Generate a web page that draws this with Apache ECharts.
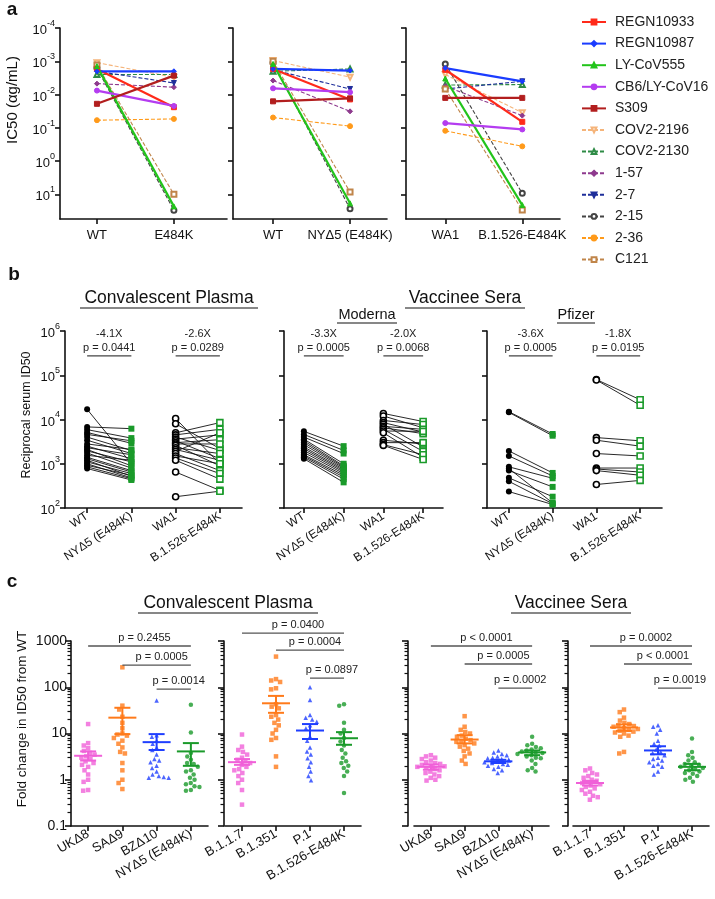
<!DOCTYPE html>
<html><head><meta charset="utf-8"><title>chart</title>
<script src="https://cdn.jsdelivr.net/npm/echarts@6.0.0/dist/echarts.min.js"></script>
<style>html,body{margin:0;padding:0;background:#fff;}#chart{width:715px;height:899px;}</style>
</head><body><div id="chart"></div>
<script>
// ================= DATA =================
// Panel a: IC50 (ug/mL) of monoclonal antibodies
const aAntibodies = ['REGN10933','REGN10987','LY-CoV555','CB6/LY-CoV16','S309','COV2-2196','COV2-2130','1-57','2-7','2-15','2-36','C121'];
const aCats1 = ['WT','E484K'];
const aCats2 = ['WT','NYΔ5 (E484K)'];
const aCats3 = ['WA1','B.1.526-E484K'];
const aWT1     = [0.0017,0.002,0.0014,0.0076,0.019,0.0011,0.0025,0.0047,0.002,0.0016,0.059,0.0013];
const aE484K1  = [0.024,0.002,23,0.022,0.0027,0.003,0.0025,0.006,0.0045,30,0.054,10];
const aWT2     = [0.0017,0.0017,0.0012,0.0065,0.016,0.00095,0.002,0.0038,0.0018,0.0011,0.049,0.001];
const aNY2     = [0.014,0.0019,18.6,0.0085,0.013,0.003,0.0017,0.032,0.0068,27,0.089,8.5];
const aWA1_3   = [0.0018,0.0016,0.0033,0.072,0.0126,0.0025,0.0052,0.0056,0.0068,0.0012,0.123,0.0068];
const aB1526_3 = [0.066,0.004,21,0.112,0.0126,0.035,0.005,0.043,0.004,9.3,0.36,29.5];
const aTickVals = [1e-4,1e-3,1e-2,1e-1,1,10];

// Panel b: reciprocal serum ID50 (paired)
const bCats = ['WT','NYΔ5 (E484K)','WA1','B.1.526-E484K'];
const convWT  = [17000,6800,5900,5100,4600,4000,3400,2800,2500,2300,2100,1950,1750,1550,1400,1300,1200,1100,1000,920,850,780];
const convNY  = [1000,6200,3800,2900,3300,2000,1700,2100,1300,1600,900,1100,800,1200,700,650,520,600,480,550,460,430];
const convWA1 = [10500,8000,5000,4500,4000,3600,3300,3000,2800,2600,2300,2100,1900,1700,1500,1350,1200,650,180];
const convB   = [1000,2200,8500,6000,2000,4500,1300,3500,2800,900,1700,1200,5000,700,1000,600,450,250,240];
const modWT   = [5400,4600,4000,3600,3300,3000,2700,2400,2200,2000,1800,1600,1500,1400,1300];
const modNY   = [2500,2000,1700,1000,900,850,800,750,700,650,600,550,500,450,380];
const modWA1  = [13700,12000,9500,8500,7800,7000,6500,6000,5500,5000,3400,3000,2700,2600];
const modB    = [9000,6500,7700,5200,2400,6000,4800,1900,5400,1400,2800,3000,1600,1250];
const pfzWT   = [15000,14500,1950,1500,850,780,700,480,400,235];
const pfzNY   = [4700,4300,620,530,470,130,300,180,125,120];
const pfzWA1  = [80000,78000,3900,3400,1700,800,760,700,340];
const pfzB    = [28000,21000,3300,2500,1500,800,650,550,420];
const bTickVals = [1e2,1e3,1e4,1e5,1e6];
const bFoldConv = ['-4.1X','-2.6X'], bPConv = ['p = 0.0441','p = 0.0289'];
const bFoldMod  = ['-3.3X','-2.0X'], bPMod  = ['p = 0.0005','p = 0.0068'];
const bFoldPfz  = ['-3.6X','-1.8X'], bPPfz  = ['p = 0.0005','p = 0.0195'];

// Panel c: fold change in ID50 from WT
const cCatsA = ['UKΔ8','SAΔ9','BZΔ10','NYΔ5 (E484K)'];
const cCatsB = ['B.1.1.7','B.1.351','P.1','B.1.526-E484K'];
const convUK    = [16,6.2,5.5,4.8,4.2,3.8,3.5,3.2,3.0,2.8,2.5,2.3,2.1,1.9,1.6,1.3,1.0,0.9,0.6,0.58];
const convSA    = [270,40,33,23,17,13,10,9.5,9,8,7,6,5,4,3.7,2.3,1.6,1.0,0.85,0.63];
const convBZ    = [52,9.2,8.5,7,6,5,4.4,3.5,2.8,2.6,2.4,2.0,1.8,1.5,1.3,1.2,1.15,1.1,1.1];
const convNYc   = [42,10.5,3.8,3.2,2.7,2.3,2.2,1.9,1.6,1.5,1.3,1.1,1.0,0.85,0.8,0.72,0.7,0.6,0.58];
const convB117  = [9.5,5.2,4.4,4.0,3.5,3.0,2.7,2.5,2.3,2.1,1.9,1.7,1.6,1.4,1.2,1.0,0.85,0.6,0.29];
const convB1351 = [460,150,140,130,95,90,43,38,35,25,23,20,17,15,12,10,8,7.3,3.2,1.9];
const convP1    = [100,53,25,22,20,18,15,13,8.6,7,5,4.1,3.5,2.9,2.4,1.9,1.5,1.2,0.97];
const convB1526 = [43,40,17,12,10,8,6.7,5.5,4.4,3.7,3.0,2.5,2.3,2.0,1.8,1.5,1.2,0.52];
const vacUK     = [3.4,3.2,3.0,2.8,2.6,2.4,2.3,2.2,2.1,2.0,1.95,1.9,1.85,1.8,1.7,1.6,1.5,1.4,1.3,1.2,1.1,1.0,0.96];
const vacSA     = [23.7,14,12,10.8,10,9,8.5,7.7,7.2,6.8,6.6,6.1,5.6,5.2,4.7,4.2,3.7,3.2,2.6,2.2];
const vacBZ     = [4.3,3.9,3.6,3.4,3.2,3.0,2.9,2.8,2.7,2.6,2.5,2.4,2.3,2.2,2.1,2.0,1.9,1.7,1.6,1.4];
const vacNY     = [8.5,6,5.6,5.1,4.8,4.5,4.3,4.1,3.9,3.8,3.6,3.4,3.2,3.0,2.9,2.6,2.2,1.8,1.6,1.5];
const vacB117   = [1.75,1.6,1.4,1.3,1.2,1.1,1.0,0.95,0.9,0.85,0.8,0.75,0.7,0.65,0.6,0.55,0.5,0.45,0.42,0.37];
const vacB1351  = [33,29,22,19,17,16,15,14.5,14,13,12.5,12,11.5,11,10.5,10,9,8.5,4.0,3.7];
const vacP1     = [15,14,12,10,7,6,5.5,4.5,4.0,3.8,3.4,3.0,2.8,2.6,2.4,2.2,2.0,1.9,1.5,1.3];
const vacB1526  = [7.8,4.0,3.4,3.0,2.6,2.4,2.2,2.1,2.0,1.9,1.8,1.7,1.6,1.5,1.4,1.35,1.2,1.1,1.0,0.9];
// mean and SEM bounds
const cMeanConvA = [3.3,22,6.5,4.1],   cLoConvA = [2.6,9.7,4.4,2.0],  cHiConvA = [4.1,36,9.7,6.2];
const cMeanConvB = [2.4,45,11.6,7.9],  cLoConvB = [2.1,28,7.6,5.7],   cHiConvB = [2.8,65,16,10.7];
const cMeanVacA  = [1.9,7.4,2.5,3.9],  cLoVacA  = [1.65,6.1,2.3,3.4], cHiVacA  = [2.15,9.2,2.7,4.3];
const cMeanVacB  = [0.85,13.5,4.3,1.9],cLoVacB  = [0.75,11.4,3.55,1.6],cHiVacB = [0.94,15.7,5.3,2.2];
const cTickVals = [0.1,1,10,100,1000];
const cPConvA = ['p = 0.2455','p = 0.0005','p = 0.0014'];
const cPConvB = ['p = 0.0400','p = 0.0004','p = 0.0897'];
const cPVacA  = ['p < 0.0001','p = 0.0005','p = 0.0002'];
const cPVacB  = ['p = 0.0002','p < 0.0001','p = 0.0019'];

// ================= STYLE / LAYOUT =================
const FONT = '"Liberation Sans", Arial, Helvetica, sans-serif';
const INK = '#111';
const AX = {color: INK, width: 1.6};
const aStyle = [
  {c:'#ff2a1a', t:'solid',  w:2.2, s:'rect'},
  {c:'#1a3cff', t:'solid',  w:2.2, s:'diamond'},
  {c:'#22c41a', t:'solid',  w:2.2, s:'triangle'},
  {c:'#b43cf0', t:'solid',  w:2.2, s:'circle'},
  {c:'#b21e1e', t:'solid',  w:2.2, s:'rect'},
  {c:'#f5b47a', t:'dashed', w:1.1, s:'emptyTriangle', rot:180},
  {c:'#2e8b46', t:'dashed', w:1.1, s:'emptyTriangle'},
  {c:'#8e3a8e', t:'dashed', w:1.1, s:'diamond'},
  {c:'#1e2e9a', t:'dashed', w:1.1, s:'triangle', rot:180},
  {c:'#444444', t:'dashed', w:1.1, s:'emptyCircle'},
  {c:'#ff9a1a', t:'dashed', w:1.1, s:'circle'},
  {c:'#c0854a', t:'dashed', w:1.1, s:'emptyRect'}
];
const GREEN = '#1a9a2a';
const cColors = ['#f060d8','#ff7a1a','#1f3fff','#1a9a2a'];
const cSymbols = ['rect','rect','triangle','circle'];

const powRich = {
  b: {fontSize: 13, color: INK, fontFamily: FONT, lineHeight: 18, verticalAlign: 'bottom'},
  s: {fontSize: 9, color: INK, fontFamily: FONT, lineHeight: 8, verticalAlign: 'top'}
};
function powLabel(v) {
  const e = Math.round(Math.log10(v));
  return '{b|10}{s|' + e + '}';
}

const grid = [], xAxis = [], yAxis = [], series = [];
function addGrid(left, top, width, height) {
  grid.push({left, top, width, height});
  return grid.length - 1;
}

// ---------- Panel a ----------
const aGridDefs = [
  {left: 60,  width: 167, min: -0.48, max: 1.69, cats: aCats1, A: aWT1,   B: aE484K1,  lbl: true},
  {left: 233, width: 154, min: -0.52, max: 1.48, cats: aCats2, A: aWT2,   B: aNY2,     lbl: false},
  {left: 406, width: 154, min: -0.51, max: 1.49, cats: aCats3, A: aWA1_3, B: aB1526_3, lbl: false}
];
aGridDefs.forEach(d => {
  const gi = addGrid(d.left, 28, d.width, 191);
  xAxis.push({type: 'value', gridIndex: gi, min: d.min, max: d.max,
    axisLine: {show: true, onZero: false, lineStyle: AX},
    axisTick: {show: true, length: 5, customValues: [0, 1], lineStyle: AX},
    axisLabel: {customValues: [0, 1], formatter: v => d.cats[Math.round(v)], fontSize: 13, color: INK, fontFamily: FONT, margin: 10},
    splitLine: {show: false}});
  const xi = xAxis.length - 1;
  yAxis.push({type: 'log', logBase: 10, gridIndex: gi, inverse: true, min: 1e-4, max: 55,
    axisLine: {show: true, onZero: false, lineStyle: AX},
    axisTick: {show: true, length: 5, customValues: aTickVals, lineStyle: AX},
    axisLabel: {show: d.lbl, customValues: aTickVals, formatter: powLabel, rich: powRich, margin: 5},
    splitLine: {show: false}, minorTick: {show: false}});
  const yi = yAxis.length - 1;
  aAntibodies.forEach((name, i) => {
    const st = aStyle[i];
    series.push({type: 'line', name, xAxisIndex: xi, yAxisIndex: yi, silent: true,
      z: st.t === 'solid' ? 4 : 3,
      symbol: st.s, symbolSize: 5, symbolRotate: st.rot || 0,
      lineStyle: {color: st.c, width: st.w, type: st.t === 'dashed' ? [4, 2] : 'solid'},
      itemStyle: {color: st.c, borderColor: st.c, borderWidth: 1},
      data: [[0, d.A[i]], [1, d.B[i]]]});
  });
});

// ---------- Panel b ----------
const symWT  = {s: 'circle', st: {color: '#000'}};
const symNY  = {s: 'rect',   st: {color: GREEN}};
const symWA1 = {s: 'circle', st: {color: '#fff', borderColor: '#000', borderWidth: 1.6}};
const symB   = {s: 'rect',   st: {color: '#fff', borderColor: GREEN, borderWidth: 1.6}};
const bBracketY = 2.75e5;
function pairs(xi, yi, c0, c1, A, B, sA, sB) {
  for (let i = 0; i < A.length; i++) {
    series.push({type: 'line', xAxisIndex: xi, yAxisIndex: yi, silent: true, symbolSize: 6, z: 3,
      lineStyle: {color: '#111', width: 0.9},
      data: [{value: [c0, A[i]], symbol: sA.s, itemStyle: sA.st},
             {value: [c1, B[i]], symbol: sB.s, itemStyle: sB.st}]});
  }
}
const bGridDefs = [
  {left: 65,  width: 177, lbl: true,  sets: [[convWT, convNY], [convWA1, convB]], fold: bFoldConv, p: bPConv},
  {left: 284, width: 159, lbl: false, sets: [[modWT, modNY],   [modWA1, modB]],   fold: bFoldMod,  p: bPMod},
  {left: 487, width: 175, lbl: false, sets: [[pfzWT, pfzNY],   [pfzWA1, pfzB]],   fold: bFoldPfz,  p: bPPfz}
];
bGridDefs.forEach(d => {
  const gi = addGrid(d.left, 331, d.width, 177);
  xAxis.push({type: 'category', gridIndex: gi, data: bCats, boundaryGap: true,
    axisLine: {show: true, onZero: false, lineStyle: AX},
    axisTick: {show: true, alignWithLabel: true, length: 5, lineStyle: AX},
    axisLabel: {interval: 0, rotate: 33, fontSize: 12, color: INK, fontFamily: FONT, margin: 7},
    splitLine: {show: false}});
  const xi = xAxis.length - 1;
  yAxis.push({type: 'log', logBase: 10, gridIndex: gi, min: 1e2, max: 1e6,
    axisLine: {show: true, onZero: false, lineStyle: AX},
    axisTick: {show: true, length: 5, customValues: bTickVals, lineStyle: AX},
    axisLabel: {show: d.lbl, customValues: bTickVals, formatter: powLabel, rich: powRich, margin: 5},
    splitLine: {show: false}, minorTick: {show: false}});
  const yi = yAxis.length - 1;
  pairs(xi, yi, bCats[0], bCats[1], d.sets[0][0], d.sets[0][1], symWT, symNY);
  pairs(xi, yi, bCats[2], bCats[3], d.sets[1][0], d.sets[1][1], symWA1, symB);
  series.push({type: 'custom', xAxisIndex: xi, yAxisIndex: yi, silent: true, clip: false, z: 6,
    data: [[0, 1, bBracketY], [2, 3, bBracketY]],
    renderItem: (params, api) => {
      const p1 = api.coord([api.value(0), api.value(2)]);
      const p2 = api.coord([api.value(1), api.value(2)]);
      const cx = (p1[0] + p2[0]) / 2;
      return {type: 'group', children: [
        {type: 'line', shape: {x1: p1[0], y1: p1[1], x2: p2[0], y2: p2[1]}, style: {stroke: '#444', lineWidth: 1.3}},
        {type: 'text', x: cx, y: p1[1] - 8, style: {text: d.p[params.dataIndex], align: 'center', verticalAlign: 'middle', fontSize: 11, fill: '#222', fontFamily: FONT}},
        {type: 'text', x: cx, y: p1[1] - 22, style: {text: d.fold[params.dataIndex], align: 'center', verticalAlign: 'middle', fontSize: 11, fill: '#222', fontFamily: FONT}}
      ]};
    }});
});

// ---------- Panel c ----------
const cMinor = [];
[0.1, 1, 10, 100].forEach(dec => { for (let k = 2; k <= 9; k++) cMinor.push(+(dec * k).toPrecision(3)); });
const cGridDefs = [
  {left: 71,  width: 137, off: 0, lbl: true,  cats: cCatsA, sets: [convUK, convSA, convBZ, convNYc],     m: cMeanConvA, lo: cLoConvA, hi: cHiConvA, p: cPConvA, br: [[0,3,780],[1,3,302],[2,3,91]]},
  {left: 225, width: 136, off: 1, lbl: false, cats: cCatsB, sets: [convB117, convB1351, convP1, convB1526], m: cMeanConvB, lo: cLoConvB, hi: cHiConvB, p: cPConvB, br: [[0,3,1480],[1,3,635],[2,3,158]]},
  {left: 414, width: 135, off: 6, lbl: false, cats: cCatsA, sets: [vacUK, vacSA, vacBZ, vacNY],           m: cMeanVacA,  lo: cLoVacA,  hi: cHiVacA,  p: cPVacA,  br: [[0,3,780],[1,3,318],[2,3,96]]},
  {left: 573, width: 136, off: 5, lbl: false, cats: cCatsB, sets: [vacB117, vacB1351, vacP1, vacB1526],   m: cMeanVacB,  lo: cLoVacB,  hi: cHiVacB,  p: cPVacB,  br: [[0,3,780],[1,3,318],[2,3,96]]}
];
cGridDefs.forEach(d => {
  const gi = addGrid(d.left, 641, d.width, 185);
  xAxis.push({type: 'category', gridIndex: gi, data: d.cats, boundaryGap: true,
    jitter: 30, jitterOverlap: false, jitterMargin: 0.5,
    axisLine: {show: true, onZero: false, lineStyle: AX},
    axisTick: {show: true, alignWithLabel: true, length: 5, lineStyle: AX},
    axisLabel: {interval: 0, rotate: 30, fontSize: 13, color: INK, fontFamily: FONT, margin: 7},
    splitLine: {show: false}});
  const xi = xAxis.length - 1;
  yAxis.push({type: 'log', logBase: 10, gridIndex: gi, min: 0.1, max: 1000, offset: d.off, position: 'left',
    axisLine: {show: true, onZero: false, lineStyle: AX},
    axisTick: {show: true, length: 6, customValues: cTickVals, lineStyle: AX},
    axisLabel: {show: d.lbl, customValues: cTickVals, formatter: v => String(v), fontSize: 14, color: INK, fontFamily: FONT, margin: 4},
    splitLine: {show: false}, minorTick: {show: false}});
  const yi = yAxis.length - 1;
  yAxis.push({type: 'log', logBase: 10, gridIndex: gi, min: 0.1, max: 1000, offset: d.off, position: 'left',
    axisLine: {show: false, onZero: false},
    axisTick: {show: true, length: 3.5, customValues: cMinor, lineStyle: {color: INK, width: 1.2}},
    axisLabel: {show: false}, splitLine: {show: false}});
  d.sets.forEach((vals, g) => {
    series.push({type: 'scatter', xAxisIndex: xi, yAxisIndex: yi, silent: true, z: 3,
      symbol: cSymbols[g], symbolSize: 4.5, itemStyle: {color: cColors[g]},
      data: vals.map(v => [g, v])});
  });
  series.push({type: 'custom', xAxisIndex: xi, yAxisIndex: yi, silent: true, clip: false, z: 5,
    data: d.m.map((m, g) => [g, m, d.lo[g], d.hi[g]]),
    renderItem: (params, api) => {
      const col = cColors[params.dataIndex];
      const c = api.coord([api.value(0), api.value(1)]);
      const lo = api.coord([api.value(0), api.value(2)]);
      const hi = api.coord([api.value(0), api.value(3)]);
      const x = c[0];
      const st = {stroke: col, lineWidth: 2};
      return {type: 'group', children: [
        {type: 'line', shape: {x1: x - 14, y1: c[1], x2: x + 14, y2: c[1]}, style: st},
        {type: 'line', shape: {x1: x, y1: lo[1], x2: x, y2: hi[1]}, style: st},
        {type: 'line', shape: {x1: x - 8, y1: lo[1], x2: x + 8, y2: lo[1]}, style: st},
        {type: 'line', shape: {x1: x - 8, y1: hi[1], x2: x + 8, y2: hi[1]}, style: st}
      ]};
    }});
  series.push({type: 'custom', xAxisIndex: xi, yAxisIndex: yi, silent: true, clip: false, z: 6,
    data: d.br,
    renderItem: (params, api) => {
      const p1 = api.coord([api.value(0), api.value(2)]);
      const p2 = api.coord([api.value(1), api.value(2)]);
      return {type: 'group', children: [
        {type: 'line', shape: {x1: p1[0], y1: p1[1], x2: p2[0], y2: p2[1]}, style: {stroke: '#555', lineWidth: 1.3}},
        {type: 'text', x: (p1[0] + p2[0]) / 2 + 5, y: p1[1] - 8, style: {text: d.p[params.dataIndex], align: 'center', verticalAlign: 'middle', fontSize: 11, fill: '#222', fontFamily: FONT}}
      ]};
    }});
});

// ---------- texts ----------
function txt(x, y, text, size, extra) {
  return Object.assign({type: 'text', x, y, silent: true,
    style: Object.assign({text, fontSize: size, fill: INK, fontFamily: FONT, align: 'center', verticalAlign: 'middle'}, (extra && extra.style) || {})},
    extra && extra.rotation !== undefined ? {rotation: extra.rotation} : {});
}
function uline(x1, x2, y) {
  return {type: 'line', silent: true, shape: {x1, y1: y, x2, y2: y}, style: {stroke: INK, lineWidth: 1.2}};
}
const graphic = [
  txt(12, 10, 'a', 19, {style: {fontWeight: 'bold'}}),
  txt(14, 275, 'b', 19, {style: {fontWeight: 'bold'}}),
  txt(12, 582, 'c', 19, {style: {fontWeight: 'bold'}}),
  txt(13, 100, 'IC50 (αg/mL)', 15, {rotation: Math.PI / 2}),
  txt(169, 298, 'Convalescent Plasma', 17.5), uline(80, 258, 308),
  txt(465, 298, 'Vaccinee Sera', 17.5), uline(405, 525, 308),
  txt(367, 315, 'Moderna', 14.5), uline(337, 397, 323),
  txt(576, 315, 'Pfizer', 14.5), uline(557, 595, 323),
  txt(27, 415, 'Reciprocal serum ID50', 12.5, {rotation: Math.PI / 2}),
  txt(228, 603, 'Convalescent Plasma', 17.5), uline(138, 318, 613),
  txt(571, 603, 'Vaccinee Sera', 17.5), uline(511, 631, 613),
  txt(22, 719, 'Fold change in ID50 from WT', 13.5, {rotation: Math.PI / 2})
];

const option = {
  animation: false,
  backgroundColor: '#fff',
  textStyle: {fontFamily: FONT},
  grid, xAxis, yAxis, series, graphic,
  legend: {data: aAntibodies, orient: 'vertical', left: 576, top: 10, itemWidth: 24, itemHeight: 6, itemGap: 7.6,
    selectedMode: false, textStyle: {fontSize: 14, color: '#222', fontFamily: FONT, padding: [0, 0, 0, 4]}}
};
const chart = echarts.init(document.getElementById('chart'), null, {renderer: 'canvas', width: 715, height: 899});
chart.setOption(option);
</script></body></html>
